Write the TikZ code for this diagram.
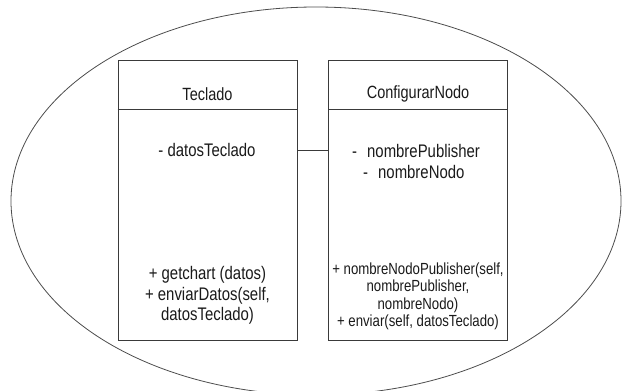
\documentclass[tikz,border=0pt]{standalone}
\usepackage{fontspec}
\setmainfont[FakeStretch=0.82]{Liberation Sans}
\definecolor{edge}{HTML}{3A3A3A}
\definecolor{ink}{HTML}{1A1A1A}
\begin{document}
\begin{tikzpicture}[x=1pt,y=-1pt,
  classbox/.style={draw=edge, line width=0.9pt, minimum width=179pt, minimum height=280pt, inner sep=0pt},
  title/.style={text=ink, font=\fontsize{17.7}{20}\selectfont},
  member/.style={text=ink, align=center, inner sep=0pt, font=\fontsize{18.2}{20.5}\selectfont},
  smallmember/.style={text=ink, align=center, inner sep=0pt, font=\fontsize{16.1}{17.5}\selectfont},
  rule/.style={draw=edge, line width=0.9pt},
  outline/.style={draw=black!70, line width=0.8pt}]
\useasboundingbox (0,0) rectangle (627,391);

% enclosing boundary
\begin{scope}
  \clip (0,0) rectangle (627,391);
  \draw[outline] (316,201) ellipse [x radius=305, y radius=194];
\end{scope}

% class boxes
\node[classbox] (teclado) at (207.5,200) {};
\node[classbox] (config) at (418,200) {};

% name compartments
\coordinate (sepL) at (0,109);
\draw[rule] (sepL -| teclado.west) -- (sepL -| teclado.east);
\draw[rule] (sepL -| config.west) -- (sepL -| config.east);

\node[title] (tname) at (207.5,94) {Teclado};
\node[title] (cname) at (418,94) {ConfigurarNodo};

% attributes
\node[member] (attrL) at (207,150) {- datosTeclado};
\node[member, anchor=west] (attrC1) at (352,150.5) {-\hspace{10pt}nombrePublisher};
\node[member, anchor=west] (attrC2) at (363,171.5) {-\hspace{10pt}nombreNodo};

% methods
\node[member] (methL) at (207.5,295.5) {+ getchart (datos)\\+ enviarDatos(self,\\datosTeclado)};
\node[smallmember] (methC) at (418,296.5) {+ nombreNodoPublisher(self,\\nombrePublisher,\\nombreNodo)\\+ enviar(self, datosTeclado)};

% association
\draw[rule] (attrL -| teclado.east) -- (attrL -| config.west);
\end{tikzpicture}
\end{document}
